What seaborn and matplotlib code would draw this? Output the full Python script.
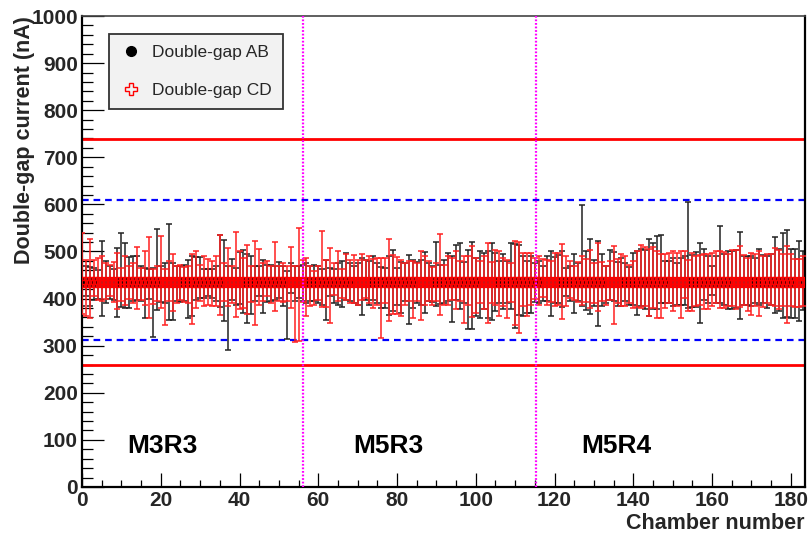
import numpy as np
import pandas as pd
import matplotlib
matplotlib.use("Agg")
import matplotlib.pyplot as plt
from matplotlib.lines import Line2D
from matplotlib.ticker import MultipleLocator
import seaborn as sns

# ---------------- data ----------------
chamber = list(range(184))
ab_center = [435.0] * 184
cd_center = [435.0] * 184

ab_hi = [
    500, 469, 467, 465, 460, 522, 480, 470, 462, 508,
    540, 519, 489, 490, 490, 469, 465, 462, 465, 547,
    470, 475, 559, 475, 469, 470, 472, 481, 490, 489,
    489, 462, 462, 462, 470, 536, 524, 470, 485, 465,
    499, 504, 494, 490, 470, 470, 483, 472, 472, 469,
    477, 469, 458, 476, 470, 469, 472, 476, 470, 472,
    469, 462, 483, 465, 462, 476, 480, 496, 475, 469,
    476, 487, 481, 480, 490, 475, 467, 465, 490, 503,
    465, 477, 475, 492, 483, 478, 481, 499, 475, 470,
    520, 472, 483, 497, 490, 513, 519, 478, 504, 520,
    487, 501, 497, 502, 519, 497, 480, 494, 480, 517,
    515, 513, 490, 480, 490, 475, 480, 470, 490, 501,
    488, 492, 501, 465, 470, 494, 475, 599, 501, 527,
    481, 522, 494, 469, 503, 499, 477, 487, 475, 467,
    497, 501, 506, 504, 527, 519, 533, 535, 480, 480,
    487, 476, 487, 490, 606, 492, 499, 519, 506, 490,
    469, 490, 554, 494, 502, 501, 503, 541, 490, 490,
    490, 487, 506, 492, 490, 494, 531, 506, 540, 545,
    506, 506, 522, 500]

ab_lo = [
    385, 405, 384, 398, 400, 364, 391, 400, 398, 360,
    382, 379, 380, 395, 398, 395, 359, 400, 318, 375,
    392, 390, 355, 354, 395, 392, 395, 359, 363, 398,
    402, 402, 405, 402, 395, 382, 352, 290, 398, 387,
    389, 370, 348, 368, 395, 405, 370, 392, 395, 398,
    402, 384, 314, 412, 395, 402, 395, 391, 395, 395,
    391, 387, 355, 405, 391, 387, 382, 398, 395, 391,
    387, 366, 398, 387, 398, 390, 380, 380, 366, 373,
    387, 370, 395, 346, 380, 390, 387, 370, 395, 392,
    384, 389, 391, 395, 350, 398, 377, 390, 336, 336,
    363, 359, 377, 359, 355, 373, 390, 377, 391, 377,
    338, 366, 364, 370, 370, 392, 391, 395, 395, 363,
    390, 390, 382, 405, 395, 370, 395, 385, 375, 368,
    385, 341, 385, 391, 398, 395, 385, 385, 395, 387,
    387, 366, 384, 377, 363, 377, 378, 391, 391, 391,
    384, 387, 387, 387, 380, 382, 382, 348, 398, 391,
    407, 390, 391, 387, 378, 378, 380, 357, 387, 387,
    384, 391, 387, 391, 380, 387, 370, 373, 359, 361,
    359, 359, 352, 375]

cd_hi = [
    540, 481, 526, 481, 487, 490, 475, 472, 478, 497,
    465, 490, 470, 475, 509, 465, 501, 531, 463, 470,
    533, 462, 480, 495, 470, 472, 468, 470, 494, 500,
    472, 490, 485, 480, 490, 535, 475, 508, 470, 541,
    501, 487, 513, 470, 522, 506, 475, 480, 470, 520,
    470, 475, 470, 510, 470, 550, 483, 487, 469, 458,
    469, 543, 483, 508, 476, 501, 463, 494, 483, 492,
    483, 494, 483, 490, 485, 487, 487, 487, 527, 492,
    489, 483, 475, 480, 480, 475, 501, 490, 480, 467,
    475, 538, 472, 490, 487, 501, 480, 490, 490, 511,
    487, 480, 490, 517, 478, 504, 501, 487, 483, 475,
    522, 520, 497, 496, 497, 487, 490, 485, 483, 480,
    496, 497, 515, 490, 480, 470, 478, 490, 485, 504,
    475, 519, 478, 469, 480, 511, 485, 495, 490, 472,
    480, 502, 513, 510, 506, 510, 501, 494, 494, 497,
    501, 497, 501, 501, 483, 497, 490, 492, 494, 494,
    497, 501, 501, 499, 495, 504, 504, 511, 492, 487,
    497, 495, 501, 490, 494, 494, 508, 503, 495, 511,
    495, 485, 485, 490]

cd_lo = [
    368, 363, 359, 405, 398, 395, 400, 405, 392, 377,
    395, 387, 400, 390, 378, 398, 387, 359, 389, 395,
    380, 343, 395, 373, 390, 398, 392, 390, 346, 380,
    395, 384, 387, 384, 384, 366, 395, 384, 390, 361,
    377, 380, 368, 392, 343, 387, 395, 405, 390, 373,
    395, 392, 395, 380, 307, 309, 392, 364, 384, 387,
    398, 382, 382, 348, 407, 395, 402, 398, 391, 391,
    387, 398, 402, 391, 380, 387, 316, 391, 352, 368,
    368, 363, 387, 395, 359, 395, 355, 387, 395, 387,
    395, 366, 387, 387, 398, 377, 395, 348, 387, 361,
    370, 390, 377, 348, 390, 387, 363, 384, 359, 392,
    343, 327, 384, 363, 387, 399, 387, 404, 387, 392,
    384, 387, 357, 384, 402, 398, 392, 387, 392, 380,
    391, 373, 395, 387, 398, 347, 390, 384, 385, 391,
    380, 382, 380, 385, 364, 380, 359, 359, 380, 391,
    373, 384, 359, 402, 373, 373, 385, 387, 377, 377,
    384, 391, 380, 380, 385, 385, 377, 382, 387, 373,
    366, 385, 364, 382, 391, 387, 384, 377, 385, 348,
    385, 382, 382, 385]

limit_red = [738, 260]
limit_blue = [609, 312]
region_bounds = [56, 115.2]
region_names = ["M3R3", "M5R3", "M5R4"]
region_label_x = [20.5, 77.8, 135.6]
region_label_y = 88

# ---------------- style ----------------
sns.set_theme(style="ticks")
plt.rcParams["font.family"] = ["Liberation Sans", "DejaVu Sans"]

fig = plt.figure(figsize=(8.08, 5.36), dpi=100)
ax = fig.add_axes([82 / 808, 1 - 487 / 536, (805 - 82) / 808, (487 - 16) / 536])
ax.set_facecolor("white")

df_ab = pd.DataFrame({"chamber": chamber, "current": ab_center,
                      "lo": ab_lo, "hi": ab_hi})
df_cd = pd.DataFrame({"chamber": chamber, "current": cd_center,
                      "lo": cd_lo, "hi": cd_hi})

# limit lines
for y in limit_red:
    ax.axhline(y, color="#ff0000", lw=2.0, zorder=1)
for y in limit_blue:
    ax.axhline(y, color="#0000ff", lw=1.6, ls=(0, (3, 2.2)), zorder=1)

# AB
ax.errorbar(df_ab["chamber"], df_ab["current"],
            yerr=[df_ab["current"] - df_ab["lo"], df_ab["hi"] - df_ab["current"]],
            fmt="none", ecolor="#222222", elinewidth=1.1, capsize=2.2,
            capthick=1.1, zorder=2)
sns.scatterplot(data=df_ab, x="chamber", y="current", ax=ax, marker="o",
                color="black", edgecolor="black", s=40, linewidth=0.5,
                zorder=3, legend=False)
# CD
ax.errorbar(df_cd["chamber"], df_cd["current"],
            yerr=[df_cd["current"] - df_cd["lo"], df_cd["hi"] - df_cd["current"]],
            fmt="none", ecolor="#ff2020", elinewidth=1.1, capsize=2.2,
            capthick=1.1, zorder=4)
sns.scatterplot(data=df_cd, x="chamber", y="current", ax=ax, marker="P",
                facecolor="none", edgecolor="#ff0000", s=55, linewidth=1.0,
                zorder=5, legend=False)

# region separators
for xb in region_bounds:
    ax.axvline(xb, color="#ff00ff", lw=1.6, ls=(0, (0.8, 0.8)), zorder=6)

for name, xl in zip(region_names, region_label_x):
    ax.text(xl, region_label_y, name, ha="center", va="center",
            fontsize=19, fontweight="bold", color="black")

ax.set_xlim(0, 183.6)
ax.set_ylim(0, 1000)
ax.xaxis.set_major_locator(MultipleLocator(20))
ax.xaxis.set_minor_locator(MultipleLocator(5))
ax.yaxis.set_major_locator(MultipleLocator(100))
ax.yaxis.set_minor_locator(MultipleLocator(20))

ax.tick_params(axis="y", which="major", direction="in", length=15.6, width=0.9,
               labelsize=15, pad=3, left=True, right=False, color="black")
ax.tick_params(axis="y", which="minor", direction="in", length=7.8, width=0.9,
               left=True, right=False, color="black")
ax.tick_params(axis="x", which="major", direction="in", length=10, width=0.9,
               labelsize=15, pad=3, bottom=True, top=False, color="black")
ax.tick_params(axis="x", which="minor", direction="in", length=5, width=0.9,
               bottom=True, top=False, color="black")
for lab in ax.get_xticklabels() + ax.get_yticklabels():
    lab.set_fontweight("bold")

for side in ["left", "bottom", "right"]:
    ax.spines[side].set_color("black")
    ax.spines[side].set_linewidth(1.6)
ax.spines["top"].set_color("#444444")
ax.spines["top"].set_linewidth(1.2)

ax.set_xlabel("Chamber number", fontsize=15.5, fontweight="bold", loc="right",
              labelpad=2)
ax.set_ylabel("Double-gap current (nA)", fontsize=15.5, fontweight="bold",
              loc="top", labelpad=-3)

handles = [
    Line2D([], [], marker="o", color="black", ls="none", ms=7),
    Line2D([], [], marker="P", mfc="none", mec="#ff0000", mew=1.0, ls="none", ms=8),
]
leg = ax.legend(handles, ["Double-gap AB", "Double-gap CD"], loc="upper left",
                bbox_to_anchor=(0.0373, 0.962), borderaxespad=0, fontsize=12.5,
                frameon=True, fancybox=False, framealpha=1, facecolor="#f2f2f2",
                edgecolor="#333333", borderpad=0.65, labelspacing=1.3,
                handlelength=1.2, handletextpad=0.6)
leg.get_frame().set_linewidth(1.3)
leg.set_zorder(10)

fig.savefig("out.png", dpi=100, facecolor="white")
